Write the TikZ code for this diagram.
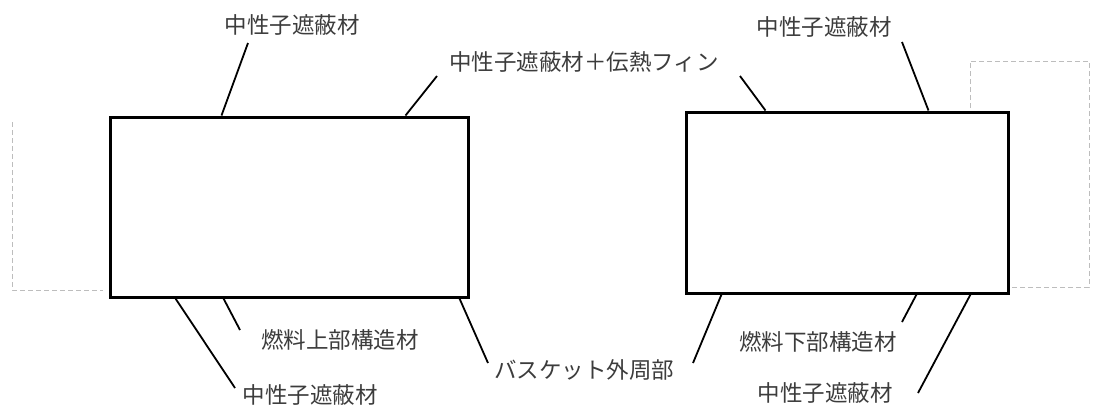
\documentclass[tikz,border=0pt]{standalone}
\usepackage{fontspec}
\newfontfamily\jp{Noto Sans CJK JP}
\definecolor{txt}{HTML}{3C3C3C}
\definecolor{dash}{HTML}{BDBDBD}
\begin{document}
\begin{tikzpicture}[x=1pt,y=-1pt,
  box/.style={draw=black,line width=3pt,inner sep=0pt,fill=none},
  lbl/.style={font=\jp\fontsize{22.5}{24}\selectfont,text=txt,inner sep=0pt,anchor=center},
  leader/.style={draw=black,line width=1.8pt},
  guide/.style={draw=dash,line width=0.9pt,dash pattern=on 5pt off 3pt}]
\useasboundingbox (0,0) rectangle (1096,410);
% boxes
\node[box,minimum width=358pt,minimum height=180pt] (L) at (289,207) {};
\node[box,minimum width=322pt,minimum height=181pt] (R) at (847,202.5) {};
% dashed guides
\coordinate (g1) at (12,122);
\coordinate (g2) at (12,290);
\coordinate (g3) at (103,290);
\draw[guide] (g1) -- (g2) -- (g3);
\coordinate (h1) at (970,108);
\coordinate (h2) at (970,61);
\coordinate (h3) at (1089,61);
\coordinate (h4) at (1089,287);
\coordinate (h5) at (1012,287);
\draw[guide] (h1) -- (h2) -- (h3) -- (h4) -- (h5);
% labels
\node[lbl] (t1) at (292,25) {中性子遮蔽材};
\node[lbl] (t2) at (584,62) {中性子遮蔽材＋伝熱フィン};
\node[lbl] (t3) at (824,27) {中性子遮蔽材};
\node[lbl] (b1) at (310,395) {中性子遮蔽材};
\node[lbl] (b2) at (340,340) {燃料上部構造材};
\node[lbl] (b3) at (584,370) {バスケット外周部};
\node[lbl] (b4) at (818,342) {燃料下部構造材};
\node[lbl] (b5) at (825,393) {中性子遮蔽材};
% leader free ends
\coordinate (e1) at (248,43);
\coordinate (e2) at (437,76);
\coordinate (e3) at (740,76);
\coordinate (e4) at (902,42);
\coordinate (e5) at (235,388);
\coordinate (e6) at (240,330);
\coordinate (e7) at (488,363);
\coordinate (e8) at (693,363);
\coordinate (e9) at (902,322);
\coordinate (e10) at (918,393);
% leaders
\draw[leader] ([xshift=113pt]L.north west) -- (e1);
\draw[leader] ([xshift=297pt]L.north west) -- (e2);
\draw[leader] ([xshift=81pt]R.north west) -- (e3);
\draw[leader] ([xshift=244pt]R.north west) -- (e4);
\draw[leader] ([xshift=67pt]L.south west) -- (e5);
\draw[leader] ([xshift=115pt]L.south west) -- (e6);
\draw[leader] ([xshift=-10pt]L.south east) -- (e7);
\draw[leader] ([xshift=37pt]R.south west) -- (e8);
\draw[leader] ([xshift=232pt]R.south west) -- (e9);
\draw[leader] ([xshift=286pt]R.south west) -- (e10);
\end{tikzpicture}
\end{document}
